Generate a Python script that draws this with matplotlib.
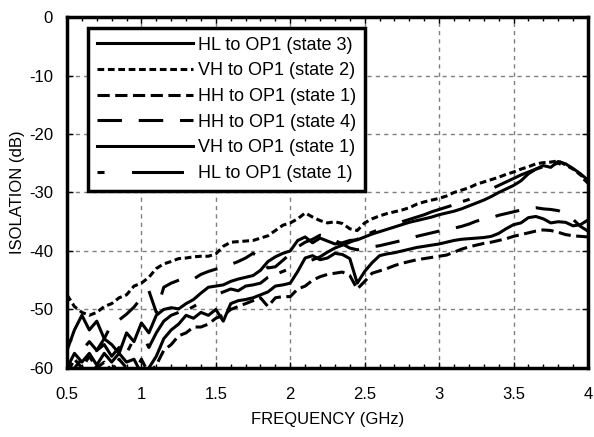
import numpy as np
import matplotlib
matplotlib.use("Agg")
import matplotlib.pyplot as plt
from matplotlib.ticker import MultipleLocator, FuncFormatter

# frequency sampling grid (GHz)
freq = np.round(np.arange(0.5, 4.0001, 0.05), 2)

hl_state3 = [-57, -53.5, -51, -53.5, -52, -55, -56, -57.5, -54, -55.5, -52.3, -54, -51, -50, -49.7,
             -49.9, -49, -48.3, -47.2, -46.2, -46, -45.8, -45.2, -44.8, -44.5, -44.2, -43.3, -41.8,
             -41, -40.4, -40, -38.2, -37.6, -38.6, -37.8, -38.3, -38.8, -38.6, -38.2, -38.1, -37.6,
             -37.1, -36.7, -36.3, -35.9, -35.5, -35.1, -34.8, -34.5, -34.2, -33.8, -33.5, -33.2,
             -32.8, -32.3, -31.8, -31.3, -30.7, -30, -29.4, -28.8, -28, -26.8, -26, -25.4, -25.7,
             -24.7, -25.1, -25.9, -26.8, -27.9]
vh_state2 = [-47.5, -49.5, -50.5, -51, -50.5, -49.5, -49, -48, -47.5, -46, -45.5, -44.5, -43, -42.2,
             -41.8, -41.3, -41.2, -41, -40.9, -40.9, -40.5, -39.2, -38.5, -38.4, -38.3, -38.2, -37.8,
             -37.4, -36.5, -35.6, -35.2, -34.5, -33.5, -34.2, -34.8, -35.2, -35, -35.3, -36.2, -36.5,
             -35.2, -34.5, -34, -33.6, -33.3, -33, -32.6, -32, -31.6, -31.3, -31, -30.6, -30, -29.6,
             -29.2, -28.6, -28.2, -27.8, -27.4, -26.9, -26.5, -26, -25.6, -25.1, -24.9, -24.8, -24.6,
             -25.3, -26, -27, -28]
hh_state1 = [-61, -58.5, -60, -58, -60, -59, -60.5, -58.5, -60, -61, -58.5, -61, -59.5, -57, -56,
             -54.5, -54, -53, -53, -52.5, -51.5, -51, -50, -49.5, -49, -48.5, -48, -49.5, -48, -47.8,
             -47.8, -46.5, -46, -45, -44.4, -44, -43.8, -43.6, -44.2, -46.5, -45.2, -43.8, -43.4, -43,
             -42.5, -42.1, -41.8, -41.5, -41.3, -41.1, -40.9, -40.7, -40.2, -39.7, -39.3, -39, -38.7,
             -38.5, -38.2, -37.9, -37.5, -37.2, -36.9, -36.6, -36.4, -36.5, -36.8, -37.2, -37.4,
             -37.5, -37.6]
hh_state4 = [-62, -60, -58.5, -57.5, -57, -55, -52.5, -51.8, -50.8, -49.6, -48, -46.8, -50.5, -46.2,
             -45.5, -45, -44.6, -44.8, -44, -43.5, -43.1, -42.8, -42.3, -41.8, -41.2, -40.4, -41.2,
             -42.9, -42.7, -41.6, -40.5, -39.3, -38.5, -38, -37.3, -37.6, -38.2, -38.8, -39.5, -39.8,
             -39.6, -39.3, -39.1, -38.8, -38.5, -38.2, -37.9, -37.5, -37.2, -36.9, -36.6, -36.4,
             -36.1, -35.8, -35.4, -34.9, -34.6, -34.3, -33.9, -33.6, -33.3, -33, -32.7, -32.6, -32.8,
             -32.9, -33.1, -33.6, -34.6, -35.8, -36.6]
vh_state1 = [-60, -57.5, -59, -57.5, -59.5, -57.5, -59, -57.5, -59, -58.5, -61, -60, -58, -55, -53.5,
             -52.5, -51, -51.5, -50.5, -51, -50, -52, -49, -48.5, -48.3, -48, -47.5, -47, -46, -45.8,
             -45.5, -43.5, -41.2, -40.8, -41.5, -41.2, -40.4, -40.6, -41.3, -45.5, -43.5, -42, -40.8,
             -40.5, -40.3, -40, -39.7, -39.4, -39.2, -39, -38.8, -38.5, -38.2, -38, -37.9, -37.8,
             -37.7, -37.5, -37, -36.2, -35.5, -35.2, -34.3, -34.1, -34.5, -35.2, -35, -35.1, -35.7,
             -35.5, -34.7]
hl_state1 = [-56, -54.5, -57, -55.5, -57, -56, -58, -56.5, -57.5, -55, -54, -56.5, -54, -52, -51,
             -50.5, -50.2, -49.5, -48.8, -48, -47.5, -47, -46.5, -46.8, -46, -45.8, -45.5, -44.5, -44,
             -43.5, -43, -42.5, -42, -41.5, -41, -40.2, -39.5, -39, -38.5, -38, -37.3, -36.8, -36.3,
             -35.8, -35.3, -35, -34.6, -34.2, -33.8, -33.3, -32.9, -32.5, -32.1, -31.6, -31.2, -30.6,
             -30, -29.4, -28.8, -28.2, -27.6, -27, -26.5, -26, -25.6, -25.3, -25, -25.5, -26.3, -27.2,
             -28.4]

labels = ["HL to OP1 (state 3)", "VH to OP1 (state 2)", "HH to OP1 (state 1)",
          "HH to OP1 (state 4)", "VH to OP1 (state 1)", "HL to OP1 (state 1)"]
series = [hl_state3, vh_state2, hh_state1, hh_state4, vh_state1, hl_state1]
# dash patterns (on, off, ...) in units of line width; None = solid
dashes = [None, (2.2, 1.2), (4, 1.8), (8, 5.5), None, (2.3, 9, 17, 4)]

plt.rcParams["font.family"] = ["Liberation Sans", "DejaVu Sans"]
plt.rcParams["axes.unicode_minus"] = False
fontsize = 12

fig = plt.figure(figsize=(5.94, 4.37), dpi=100)
ax = fig.add_axes([0.1128, 0.158, 0.877, 0.803])

for y, lab, d in zip(series, labels, dashes):
    line, = ax.plot(freq, y, color="black", linewidth=2.2, label=lab,
                    solid_joinstyle="round", dash_capstyle="butt")
    if d is not None:
        line.set_dashes(d)

ax.set_xlim(0.5, 4)
ax.set_ylim(-60, 0)
ax.xaxis.set_major_locator(MultipleLocator(0.5))
ax.xaxis.set_minor_locator(MultipleLocator(0.1))
ax.yaxis.set_major_locator(MultipleLocator(10))
ax.xaxis.set_major_formatter(FuncFormatter(lambda v, p: "%g" % v))
ax.grid(True, which="major", color="#7f7f7f", linestyle=(0, (3, 3)), linewidth=1.0)
ax.tick_params(which="both", direction="in", top=True, right=True, color="black")
ax.tick_params(which="major", length=4, width=1)
ax.tick_params(which="minor", length=3, width=1)
ax.tick_params(axis="x", which="major", pad=14, labelsize=fontsize)
ax.tick_params(axis="y", which="major", pad=10, labelsize=fontsize)
for s in ax.spines.values():
    s.set_linewidth(2.5)

ax.set_xlabel("FREQUENCY (GHz)", fontsize=fontsize, labelpad=7)
ax.set_ylabel("ISOLATION (dB)", fontsize=fontsize, labelpad=3)

leg = ax.legend(loc="upper left", bbox_to_anchor=(0.04, 0.97), borderaxespad=0,
                fontsize=13, handlelength=5.3, handletextpad=0.3,
                labelspacing=0.48, borderpad=0.5, fancybox=False, framealpha=1,
                edgecolor="black")
leg.get_frame().set_linewidth(2.5)

fig.savefig("out.png", dpi=100)
